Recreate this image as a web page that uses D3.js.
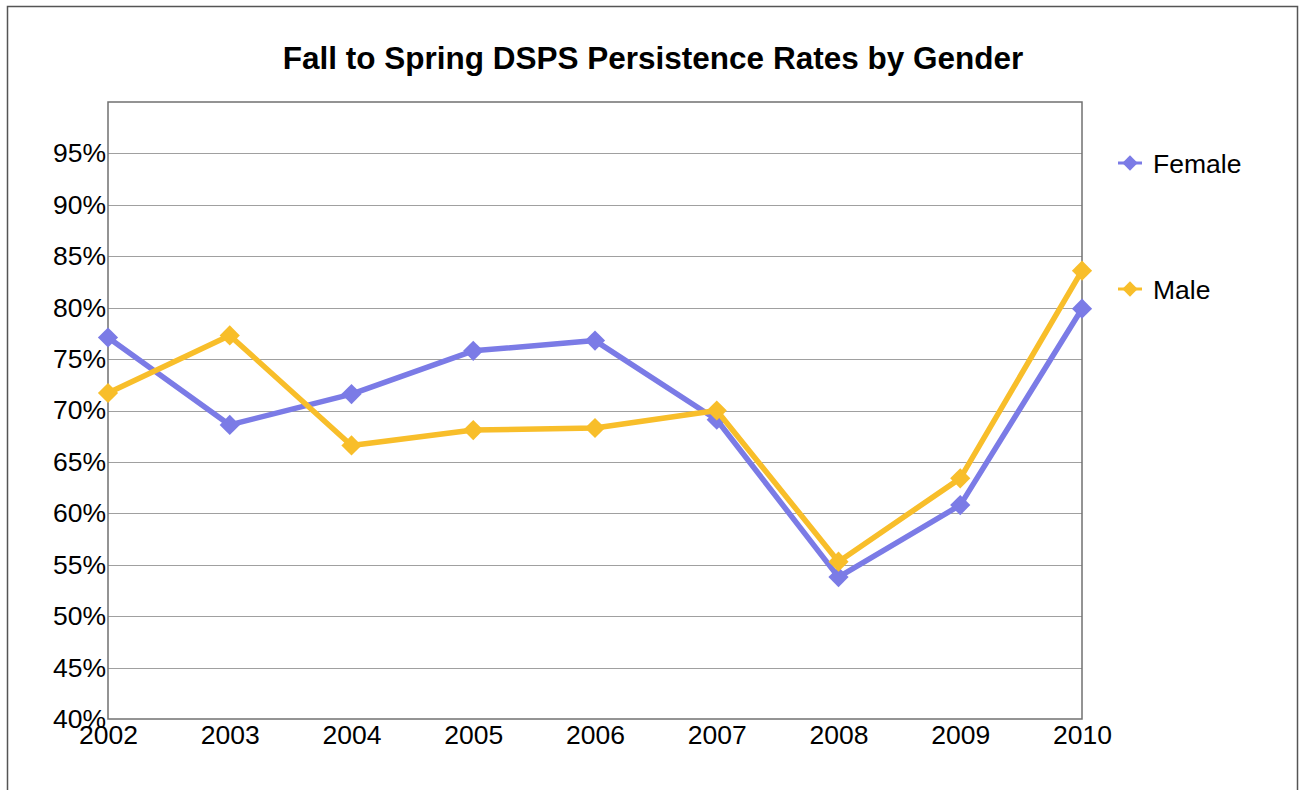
<!DOCTYPE html>
<html>
<head>
<meta charset="utf-8">
<script src="https://cdn.jsdelivr.net/npm/d3@7"></script>
<style>
  body { margin: 0; background: #fff; }
  svg { display: block; font-family: "Liberation Sans", Arial, sans-serif; }
</style>
</head>
<body>
<svg id="chart"></svg>
<script>
const years = ['2002', '2003', '2004', '2005', '2006', '2007', '2008', '2009', '2010'];
const female = [77.1, 68.6, 71.6, 75.8, 76.8, 69.1, 53.8, 60.8, 79.9];
const male = [71.7, 77.3, 66.6, 68.1, 68.3, 70.0, 55.3, 63.4, 83.6];
const yTicks = [40, 45, 50, 55, 60, 65, 70, 75, 80, 85, 90, 95];
const seriesNames = ['Female', 'Male'];
const seriesColors = ['#7b7be6', '#f8be2a'];

const width = 1304;
const height = 790;
const plotLeft = 108;
const plotRight = 1082;
const plotTop = 102;
const plotBottom = 719;
const fontFamily = '"Liberation Sans", Arial, sans-serif';

const svg = d3.select('#chart')
    .attr('width', width)
    .attr('height', height);

// outer frame
svg.append('rect')
    .attr('x', 7.5).attr('y', 6.5)
    .attr('width', 1290).attr('height', 800)
    .attr('fill', '#fff')
    .attr('stroke', '#555')
    .attr('stroke-width', 1.5);

svg.append('text')
    .attr('x', 653).attr('y', 69)
    .attr('text-anchor', 'middle')
    .attr('font-size', 31.5)
    .attr('font-weight', 'bold')
    .text('Fall to Spring DSPS Persistence Rates by Gender');

const x = d3.scalePoint().domain(years).range([plotLeft, plotRight]);
const y = d3.scaleLinear().domain([40, 100]).range([plotBottom, plotTop]);

// gridlines
svg.append('g')
    .selectAll('line')
    .data(yTicks.filter((d) => d > 40))
    .join('line')
    .attr('x1', plotLeft).attr('x2', plotRight)
    .attr('y1', (d) => Math.round(y(d)) + 0.5)
    .attr('y2', (d) => Math.round(y(d)) + 0.5)
    .attr('stroke', '#a0a0a0')
    .attr('stroke-width', 1);

// plot frame
svg.append('rect')
    .attr('x', plotLeft).attr('y', plotTop)
    .attr('width', plotRight - plotLeft).attr('height', plotBottom - plotTop)
    .attr('fill', 'none')
    .attr('stroke', '#707070')
    .attr('stroke-width', 1.5);

const yAxis = d3.axisLeft(y).tickValues(yTicks).tickSize(0).tickPadding(2).tickFormat((d) => d + '%');
svg.append('g')
    .attr('transform', `translate(${plotLeft},0)`)
    .call(yAxis)
    .call((g) => g.select('.domain').remove())
    .selectAll('text')
    .attr('font-size', 26.5)
    .attr('fill', '#000')
    .attr('font-family', fontFamily);

const xAxis = d3.axisBottom(x).tickSize(0).tickPadding(6);
svg.append('g')
    .attr('transform', `translate(0,${plotBottom})`)
    .call(xAxis)
    .call((g) => g.select('.domain').remove())
    .selectAll('text')
    .attr('font-size', 26.5)
    .attr('fill', '#000')
    .attr('font-family', fontFamily);

const series = [female, male].map((values, i) => ({name: seriesNames[i], color: seriesColors[i], values}));

const line = d3.line()
    .x((d, i) => x(years[i]))
    .y((d) => y(d));

const diamond = d3.symbol().type(d3.symbolDiamond2).size(260);

const gSeries = svg.append('g')
    .selectAll('g')
    .data(series)
    .join('g');
gSeries.append('path')
    .attr('d', (d) => line(d.values))
    .attr('fill', 'none')
    .attr('stroke', (d) => d.color)
    .attr('stroke-width', 5.5)
    .attr('stroke-linejoin', 'round');
gSeries.each(function(s) {
  d3.select(this).selectAll('path.pt')
      .data(s.values)
      .join('path')
      .attr('class', 'pt')
      .attr('transform', (d, i) => `translate(${x(years[i])},${y(d)})`)
      .attr('d', diamond)
      .attr('fill', s.color);
});

// legend
const gLegend = svg.append('g')
    .selectAll('g')
    .data(series)
    .join('g')
    .attr('transform', (d, i) => `translate(1130,${163 + i * 126})`);
gLegend.append('line')
    .attr('x1', -12).attr('x2', 12)
    .attr('stroke', (d) => d.color)
    .attr('stroke-width', 3);
gLegend.append('path')
    .attr('d', d3.symbol().type(d3.symbolDiamond2).size(150))
    .attr('fill', (d) => d.color);
gLegend.append('text')
    .attr('x', 23).attr('y', 10)
    .attr('font-size', 26.5)
    .text((d) => d.name);
</script>
</body>
</html>
